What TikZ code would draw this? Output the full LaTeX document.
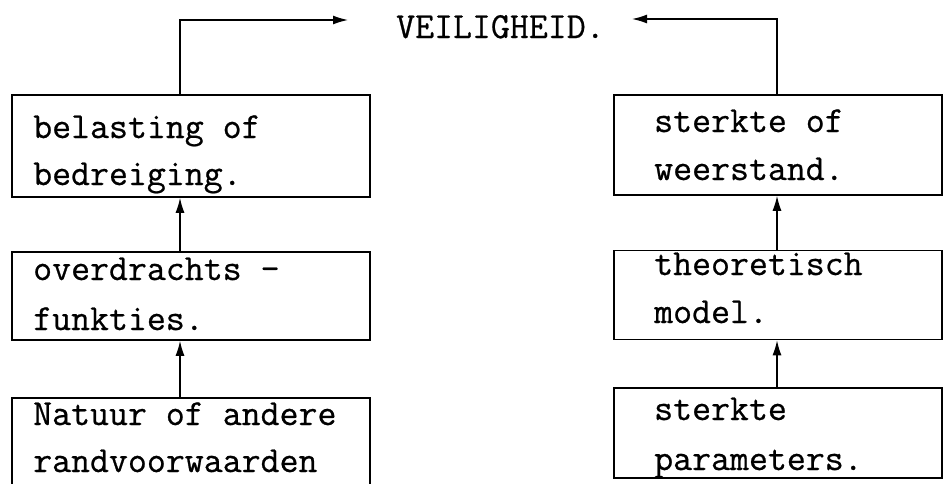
\documentclass[tikz,border=0pt]{standalone}
\usepackage{fontspec}
\newfontfamily\typew[FakeBold=0.6]{Latin Modern Mono}
\usetikzlibrary{arrows.meta}
\begin{document}
\begin{tikzpicture}[x=1pt,y=-1pt,
  boxnode/.style={draw,line width=1.6pt,rectangle,inner sep=0pt},
  txt/.style={anchor=base west,inner sep=0pt,font=\typew\bfseries\fontsize{36.8}{44}\selectfont},
  link/.style={line width=1.4pt,-{Latex[length=15pt,width=9pt]}}]
\useasboundingbox (0,0) rectangle (944,483);
% left column boxes
\node[boxnode,minimum width=358pt,minimum height=102pt] (L1) at (191,146) {};
\node[boxnode,minimum width=358pt,minimum height=88pt] (L2) at (191,296) {};
\node[boxnode,minimum width=358pt,minimum height=96pt] (L3) at (191,446) {};
% right column boxes
\node[boxnode,minimum width=328pt,minimum height=100pt] (R1) at (778,145) {};
\node[boxnode,minimum width=328pt,minimum height=89pt] (R2) at (778,295) {};
\node[boxnode,minimum width=328pt,minimum height=90pt] (R3) at (778,433) {};
% texts
\node[txt] (t1a) at (33,138) {belasting of};
\node[txt] (t1b) at (33,185) {bedreiging.};
\node[txt] (t2a) at (33,280) {overdrachts -};
\node[txt] (t2b) at (33,330) {funkties.};
\node[txt] (t3a) at (33,425) {Natuur of andere};
\node[txt] (t3b) at (33,472) {randvoorwaarden};
\node[txt] (r1a) at (654,132) {sterkte of};
\node[txt] (r1b) at (654,180) {weerstand.};
\node[txt] (r2a) at (654,275) {theoretisch};
\node[txt] (r2b) at (654,323) {model.};
\node[txt] (r3a) at (654,420) {sterkte};
\node[txt] (r3b) at (654,470) {parameters.};
\node[txt] (veil) at (396,38) {VEILIGHEID.};
% connector ends
\coordinate (lt) at (348,20);
\coordinate (rt) at (632,19);
% connectors
\draw[link] (L1.north -| 180,0) |- (lt);
\draw[link] (R1.north -| 777,0) |- (rt);
\draw[link] (L2.north -| 180,0) -- (L1.south -| 180,0);
\draw[link] (L3.north -| 180,0) -- (L2.south -| 180,0);
\draw[link] (R2.north -| 777,0) -- (R1.south -| 777,0);
\draw[link] (R3.north -| 777,0) -- (R2.south -| 777,0);
\end{tikzpicture}
\end{document}
